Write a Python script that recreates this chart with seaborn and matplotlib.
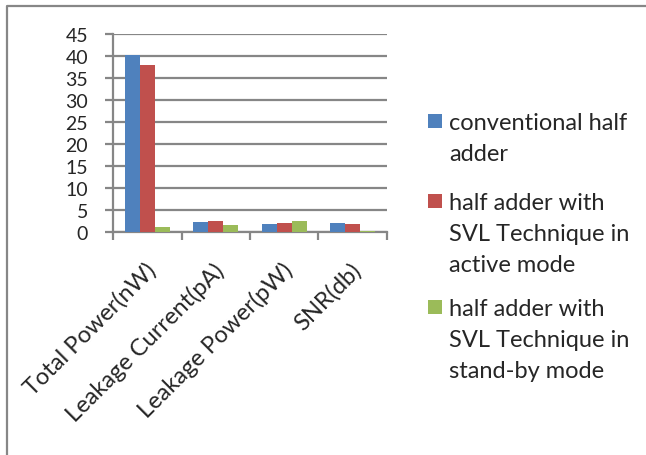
import matplotlib.pyplot as plt
import matplotlib.patches as patches
from matplotlib.lines import Line2D
import pandas as pd
import seaborn as sns

# Data
categories = ['Total Power(nW)', 'Leakage Current(pA)', 'Leakage Power(pW)', 'SNR(db)']
series = ['conventional half\nadder',
          'half adder with\nSVL Technique in\nactive mode',
          'half adder with\nSVL Technique in\nstand-by mode']
conventional = [40.2, 2.35, 1.9, 2.0]
svl_active = [38.0, 2.4, 2.1, 1.9]
svl_standby = [1.2, 1.65, 2.5, 0.3]
colors = ['#4F81BD', '#C0504D', '#9BBB59']

df = pd.DataFrame({
    'category': categories * 3,
    'series': [series[0]] * 4 + [series[1]] * 4 + [series[2]] * 4,
    'value': conventional + svl_active + svl_standby,
})

sns.set_style('white')
plt.rcParams['font.family'] = ['Lato', 'DejaVu Sans']

fig = plt.figure(figsize=(6.46, 4.56), dpi=100)
ax = fig.add_axes([0.175, 0.489, 0.424, 0.434])

sns.barplot(data=df, x='category', y='value', hue='series', palette=colors,
            width=0.66, saturation=1, legend=False, ax=ax, zorder=3,
            linewidth=0, edgecolor='none')

grid_col = '#868686'
ax.set_ylim(0, 45)
ax.set_yticks(range(0, 46, 5))
ax.set_xlim(-0.5, 3.5)
ax.yaxis.grid(True, color=grid_col, linewidth=1.6, zorder=0)
ax.set_axisbelow(True)
for s in ['top', 'right']:
    ax.spines[s].set_visible(False)
for s in ['left', 'bottom']:
    ax.spines[s].set_color(grid_col)
    ax.spines[s].set_linewidth(1.6)

# category boundary ticks on x axis
ax.set_xticks([-0.5, 0.5, 1.5, 2.5, 3.5])
ax.set_xticklabels([])
ax.tick_params(axis='x', length=6, width=1.6, color=grid_col, direction='out', bottom=True)
ax.tick_params(axis='y', length=6, width=1.6, color=grid_col, direction='out', left=True,
               labelsize=14, pad=12)
ax.set_xlabel('')
ax.set_ylabel('')

for i, cat in enumerate(categories):
    ax.annotate(cat, xy=(i, 0), xycoords=('data', 'axes fraction'),
                xytext=(-2, -19), textcoords='offset points', rotation=45,
                ha='right', va='top', rotation_mode='anchor', fontsize=17)

# legend
legend_rows = [(122, series[0]), (202, series[1]), (308, series[2])]
W, H = 646, 456
for (y, label), c in zip(legend_rows, colors):
    fig.patches.append(patches.Rectangle((428 / W, (H - y - 7) / H), 14 / W, 14 / H,
                                         transform=fig.transFigure, facecolor=c,
                                         edgecolor='none'))
    fig.text(449 / W, (H - y + 9) / H, label, fontsize=17, va='top', ha='left',
             linespacing=1.6)

# outer frame (left and top edges visible)
frame_x = [7 / W, 7 / W, 1.0]
frame_y = [0.0, (H - 7) / H, (H - 7) / H]
fig.lines.append(Line2D(frame_x, frame_y, transform=fig.transFigure,
                        color='#878787', linewidth=1.6))

fig.savefig('out.png', dpi=100)
